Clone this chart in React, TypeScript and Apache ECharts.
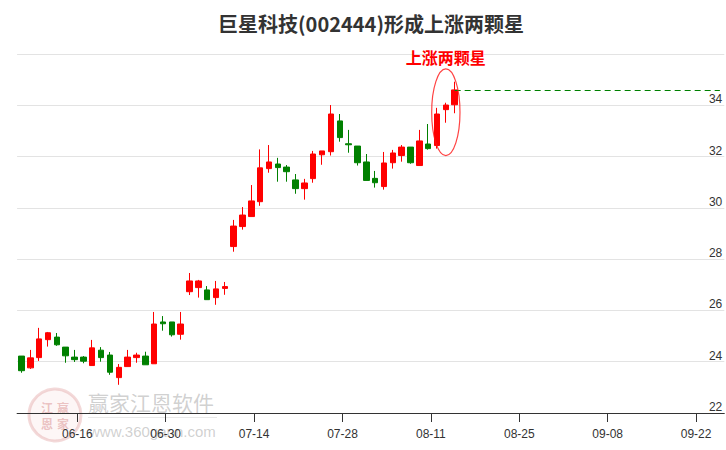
import React, { useEffect, useRef } from 'react';
import * as echarts from 'echarts';

const titleText = '巨星科技(002444)形成上涨两颗星';
const patternLabel = '上涨两颗星';
const brandText = '赢家江恩软件';
const siteText = 'www.360gann.com';
const logoChars = ['江', '赢', '恩', '家'];

// trading days (category axis), including the empty part on the right
const dates = [
  '06-06', '06-09', '06-10', '06-11', '06-12', '06-13',
  '06-16', '06-17', '06-18', '06-19', '06-20',
  '06-23', '06-24', '06-25', '06-26', '06-27',
  '06-30', '07-01', '07-02', '07-03', '07-04',
  '07-07', '07-08', '07-09', '07-10', '07-11',
  '07-14', '07-15', '07-16', '07-17', '07-18',
  '07-21', '07-22', '07-23', '07-24', '07-25',
  '07-28', '07-29', '07-30', '07-31', '08-01',
  '08-04', '08-05', '08-06', '08-07', '08-08',
  '08-11', '08-12', '08-13', '08-14', '08-15',
  '08-18', '08-19', '08-20', '08-21', '08-22',
  '08-25', '08-26', '08-27', '08-28', '08-29',
  '09-01', '09-02', '09-03', '09-04', '09-05',
  '09-08', '09-09', '09-10', '09-11', '09-12',
  '09-15', '09-16', '09-17', '09-18', '09-19',
  '09-22', '09-23', '09-24', '09-25',
];

const tickLabels = ['06-16', '06-30', '07-14', '07-28', '08-11', '08-25', '09-08', '09-22'];

const opens = [
  24.22, 23.76, 24.16, 24.86, 24.96, 24.57, 24.18, 24.18, 23.85, 24.45,
  24.26, 23.38, 23.81, 24.16, 24.22, 23.92, 25.55, 25.55, 25.07, 26.73,
  26.89, 26.80, 26.50, 26.86, 28.49, 29.27, 29.66, 30.24, 31.53, 31.71,
  31.59, 31.09, 30.75, 31.14, 32.07, 32.19, 33.39, 32.50, 32.41, 31.79,
  31.15, 30.83, 31.76, 32.04, 32.37, 31.65, 32.49, 32.43, 33.83, 34.02,
];
const closes = [
  23.65, 24.15, 24.89, 25.13, 24.66, 24.23, 24.08, 24.02, 24.54, 24.16,
  23.59, 23.78, 24.18, 24.26, 23.88, 25.47, 25.48, 25.05, 25.47, 27.15,
  27.15, 26.42, 26.84, 26.93, 29.29, 29.72, 30.27, 31.56, 31.79, 31.57,
  31.41, 30.75, 30.97, 32.10, 32.22, 33.66, 32.74, 32.46, 31.76, 31.07,
  30.98, 31.75, 32.14, 32.37, 31.76, 32.61, 32.31, 33.66, 34.01, 34.60,
];
const lows = [
  23.57, 23.72, 24.03, 24.59, 24.62, 23.96, 23.99, 23.94, 23.85, 24.00,
  23.49, 23.10, 23.81, 23.96, 23.88, 23.92, 25.21, 24.98, 24.86, 26.60,
  26.50, 26.42, 26.22, 26.61, 28.29, 29.15, 29.66, 30.08, 31.37, 31.02,
  31.02, 30.55, 30.32, 30.98, 31.68, 32.04, 32.58, 32.15, 31.65, 31.07,
  30.79, 30.71, 31.53, 31.80, 31.72, 31.65, 32.27, 32.31, 33.32, 33.69,
];
const highs = [
  24.22, 24.46, 25.32, 25.16, 25.12, 24.57, 24.46, 24.22, 24.85, 24.57,
  24.38, 23.91, 24.46, 24.35, 24.39, 25.94, 25.78, 25.55, 25.94, 27.46,
  27.19, 26.95, 27.15, 27.11, 29.53, 30.03, 30.89, 32.28, 32.45, 31.95,
  31.67, 31.32, 31.13, 32.22, 32.22, 34.01, 33.66, 33.04, 32.41, 32.10,
  31.44, 32.18, 32.26, 32.45, 32.37, 33.04, 33.27, 33.90, 34.10, 34.92,
];

// annotation of the pattern (bar index, price of ellipse centre, price of label)
const starIndex = 48;
const ellipseCenterPrice = 33.73;
const ellipseHalfWidthBars = 1.6;
const ellipseHalfHeightPrice = 1.69;
const labelPrice = 35.88;

const yMin = 22;
const yMax = 36;
const yStep = 2;

const UP = '#ff0000';
const DOWN = '#008000';
const FONT = '"Liberation Sans", Arial, sans-serif';
const CJK = '"Noto Sans CJK SC", sans-serif';

function buildOption() {
  const candles = opens.map((o, i) => [o, closes[i], lows[i], highs[i]]);
  const lastIdx = closes.length - 1;
  const lastClose = closes[lastIdx];
  const showTick = (_i: number, v: string) => tickLabels.indexOf(v) >= 0;

  return {
    animation: false,
    backgroundColor: '#ffffff',
    title: {
      text: titleText,
      left: 371,
      top: 13,
      padding: 0,
      textAlign: 'center',
      textStyle: { fontSize: 20, fontWeight: 'bold', color: '#333333', fontFamily: CJK },
    },
    graphic: [
      {
        type: 'circle',
        z: -10,
        shape: { cx: 55, cy: 415, r: 26 },
        style: { fill: 'rgba(235,180,180,0.12)', stroke: 'rgba(215,130,130,0.3)', lineWidth: 3 },
      },
      ...logoChars.map((ch, i) => ({
        type: 'text',
        z: -10,
        x: 47 + (i % 2) * 16,
        y: 407 + Math.floor(i / 2) * 16,
        style: {
          text: ch,
          fill: 'rgba(205,110,110,0.4)',
          fontSize: 12,
          fontWeight: 'bold',
          fontFamily: CJK,
          align: 'center',
          verticalAlign: 'middle',
          textAlign: 'center',
          textVerticalAlign: 'middle',
        },
      })),
      {
        type: 'text',
        z: -10,
        x: 88,
        y: 402,
        style: {
          text: brandText,
          fill: 'rgba(150,150,150,0.45)',
          fontSize: 21,
          fontFamily: CJK,
          align: 'left',
          verticalAlign: 'middle',
          textAlign: 'left',
          textVerticalAlign: 'middle',
        },
      },
      {
        type: 'line',
        z: -10,
        shape: { x1: 88, y1: 417.5, x2: 217, y2: 417.5 },
        style: { stroke: 'rgba(180,180,180,0.3)', lineWidth: 1 },
      },
      {
        type: 'text',
        z: -10,
        x: 89,
        y: 431,
        style: {
          text: siteText,
          fill: 'rgba(150,150,150,0.45)',
          fontSize: 15,
          fontFamily: FONT,
          align: 'left',
          verticalAlign: 'middle',
          textAlign: 'left',
          textVerticalAlign: 'middle',
        },
      },
    ],
    grid: [
      { left: 17.1, width: 707.2, top: 54, height: 359, outerBoundsMode: 'none' },
      { left: 19.84, width: 707.2, top: 54, height: 359, outerBoundsMode: 'none' },
    ],
    xAxis: [
      {
        type: 'category',
        gridIndex: 0,
        data: dates,
        boundaryGap: true,
        axisLine: { show: true, lineStyle: { color: '#333333', width: 1 } },
        axisTick: { show: false },
        axisLabel: { show: false },
        splitLine: { show: false },
      },
      {
        type: 'category',
        gridIndex: 1,
        data: dates,
        boundaryGap: true,
        axisLine: { show: false },
        axisTick: {
          show: true,
          alignWithLabel: true,
          length: 9,
          interval: showTick,
          lineStyle: { color: '#333333', width: 1 },
        },
        axisLabel: {
          show: true,
          interval: showTick,
          margin: 15,
          color: '#333333',
          fontSize: 12,
          fontFamily: FONT,
        },
        splitLine: { show: false },
      },
    ],
    yAxis: [
      {
        type: 'value',
        gridIndex: 0,
        position: 'right',
        min: yMin,
        max: yMax,
        interval: yStep,
        axisLine: { show: false },
        axisTick: { show: false },
        axisLabel: {
          inside: true,
          margin: 2,
          verticalAlign: 'bottom',
          color: '#333333',
          fontSize: 12,
          fontFamily: FONT,
          showMaxLabel: false,
        },
        splitLine: { show: true, lineStyle: { color: '#e3e3e3', width: 1 } },
      },
      { type: 'value', gridIndex: 1, min: yMin, max: yMax, show: false },
    ],
    series: [
      {
        type: 'candlestick',
        xAxisIndex: 0,
        yAxisIndex: 0,
        data: candles,
        barWidth: 6,
        itemStyle: {
          color: UP,
          color0: DOWN,
          borderColor: UP,
          borderColor0: DOWN,
          borderWidth: 1,
        },
        markLine: {
          silent: true,
          symbol: ['none', 'none'],
          label: { show: false },
          lineStyle: { color: DOWN, type: [6, 4], width: 1 },
          data: [[
            { coord: [dates[lastIdx], lastClose] },
            { coord: [dates[dates.length - 1], lastClose] },
          ]],
        },
      },
      {
        type: 'custom',
        xAxisIndex: 0,
        yAxisIndex: 0,
        silent: true,
        z: 5,
        data: [[starIndex, ellipseCenterPrice, labelPrice]],
        encode: { x: 0, y: 1 },
        renderItem: (_params: any, api: any) => {
          const c = api.coord([api.value(0), api.value(1)]);
          const t = api.coord([api.value(0), api.value(2)]);
          const band = api.size([1, 0])[0];
          const unit = api.size([0, 1])[1];
          return {
            type: 'group',
            children: [
              {
                type: 'ellipse',
                shape: { cx: c[0], cy: c[1], rx: band * ellipseHalfWidthBars, ry: unit * ellipseHalfHeightPrice },
                style: { fill: 'none', stroke: 'rgba(255,20,20,0.8)', lineWidth: 1.2 },
              },
              {
                type: 'text',
                x: t[0],
                y: t[1],
                style: {
                  text: patternLabel,
                  fill: '#ff0000',
                  fontSize: 16,
                  fontWeight: 'bold',
                  fontFamily: CJK,
                  align: 'center',
                  verticalAlign: 'middle',
                  textAlign: 'center',
                  textVerticalAlign: 'middle',
                },
              },
            ],
          };
        },
      },
    ],
  };
}

export default function App() {
  const ref = useRef<HTMLDivElement>(null);
  useEffect(() => {
    const el = ref.current;
    if (!el) return;
    const chart = echarts.init(el, null, { renderer: 'svg' });
    chart.setOption(buildOption() as any);
    return () => chart.dispose();
  }, []);
  return (
    <div
      ref={ref}
      style={{ position: 'fixed', left: 0, top: 0, width: 726, height: 450, background: '#ffffff' }}
    />
  );
}
